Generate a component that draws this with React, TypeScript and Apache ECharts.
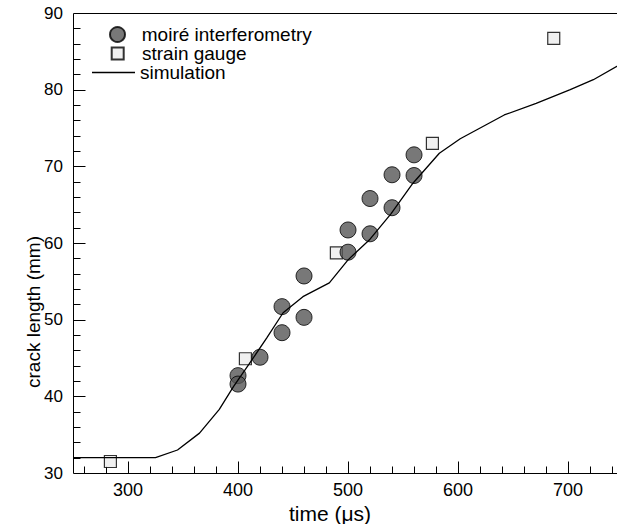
import React, { useEffect, useRef } from "react";
import * as echarts from "echarts";

const moireX = [400, 400, 420, 440, 440, 460, 460, 500, 500, 520, 520, 540, 540, 560, 560];
const moireY = [42.7, 41.6, 45.1, 51.7, 48.3, 55.7, 50.3, 61.7, 58.8, 65.8, 61.2, 68.9, 64.6, 71.5, 68.8];

const gaugeX = [284, 406.7, 489.4, 576.7, 687];
const gaugeY = [31.5, 44.9, 58.7, 73.0, 86.7];

const simX = [250, 325, 345, 365, 383, 396, 410, 426, 441, 459, 483, 500, 520, 539, 559, 583, 602, 642, 671, 702, 723, 750];
const simY = [32, 32, 33, 35.2, 38.3, 41.3, 44.2, 47.6, 50.9, 53, 54.8, 57.8, 60.5, 63.8, 67.8, 71.7, 73.6, 76.7, 78.2, 80, 81.3, 83.5];

const xMajorTicks = [300, 400, 500, 600, 700];
const xMinorTicks = [260, 280, 320, 340, 360, 380, 420, 440, 460, 480, 520, 540, 560, 580, 620, 640, 660, 680, 720, 740];
const yMajorTicks = [40, 50, 60, 70, 80];
const yMinorTicks = [32, 34, 36, 38, 42, 44, 46, 48, 52, 54, 56, 58, 62, 64, 66, 68, 72, 74, 76, 78, 82, 84, 86, 88];

const X_MIN = 250;
const X_MAX = 744.5;
const Y_MIN = 30;
const Y_MAX = 90;

const FONT = "Liberation Sans, Arial, sans-serif";

export default function App() {
  const ref = useRef<HTMLDivElement>(null);
  useEffect(() => {
    if (!ref.current) return;
    const chart = echarts.init(ref.current, undefined, { renderer: "svg" });
    const legendText = () => ({ fontSize: 19, lineHeight: 18, color: "#000", fontFamily: FONT });
    const crisp = (v: number) => Math.round(v) + 0.5;

    const renderFrame = (params: any, api: any) => {
      const lo = api.coord([X_MIN, Y_MIN]);
      const hi = api.coord([X_MAX, Y_MAX]);
      const left = crisp(lo[0]);
      const right = hi[0] + 1;
      const bottom = crisp(lo[1]);
      const top = crisp(hi[1]);
      const st = { stroke: "#000", lineWidth: 1 };
      const children: any[] = [
        { type: "line", shape: { x1: left, y1: bottom, x2: right, y2: bottom }, style: st },
        { type: "line", shape: { x1: left, y1: top, x2: right, y2: top }, style: st },
        { type: "line", shape: { x1: left, y1: top, x2: left, y2: bottom }, style: st },
      ];
      xMajorTicks.forEach((v) => {
        const x = crisp(api.coord([v, Y_MIN])[0]);
        children.push({ type: "line", shape: { x1: x, y1: bottom, x2: x, y2: bottom - 12 }, style: st });
      });
      xMinorTicks.forEach((v) => {
        const x = crisp(api.coord([v, Y_MIN])[0]);
        children.push({ type: "line", shape: { x1: x, y1: bottom, x2: x, y2: bottom - 7 }, style: st });
      });
      yMajorTicks.forEach((v) => {
        const y = crisp(api.coord([X_MIN, v])[1]);
        children.push({ type: "line", shape: { x1: left, y1: y, x2: left + 12, y2: y }, style: st });
      });
      yMinorTicks.forEach((v) => {
        const y = crisp(api.coord([X_MIN, v])[1]);
        children.push({ type: "line", shape: { x1: left, y1: y, x2: left + 7, y2: y }, style: st });
      });
      return { type: "group", children };
    };

    chart.setOption({
      animation: false,
      grid: { left: 73, top: 13, right: 0, bottom: 51 },
      legend: [
        {
          data: [{ name: "moiré interferometry", icon: "circle" }],
          left: 109,
          top: 25,
          padding: 0,
          itemWidth: 38.6,
          itemHeight: 15,
          textStyle: legendText(),
        },
        {
          data: [{ name: "strain gauge", icon: "path://M0,0H10V10H0Z" }],
          left: 110.7,
          top: 44,
          padding: 0,
          itemWidth: 38.6,
          itemHeight: 12,
          textStyle: legendText(),
        },
        {
          data: [{ name: "simulation", icon: "path://M0,0H43V1.3H0Z" }],
          left: 92,
          top: 63,
          padding: 0,
          itemWidth: 43,
          itemHeight: 14,
          textStyle: legendText(),
        },
      ],
      xAxis: {
        type: "value",
        min: X_MIN,
        max: X_MAX,
        position: "bottom",
        axisLine: { show: false },
        splitLine: { show: false },
        axisTick: { show: false },
        axisLabel: { customValues: xMajorTicks, margin: 8, fontSize: 18, color: "#000" },
      },
      yAxis: {
        type: "value",
        min: Y_MIN,
        max: Y_MAX,
        interval: 10,
        axisLine: { show: false },
        splitLine: { show: false },
        axisTick: { show: false },
        axisLabel: { margin: 10, fontSize: 17, color: "#000" },
      },
      series: [
        {
          name: "frame",
          type: "custom",
          coordinateSystem: "cartesian2d",
          data: [[X_MIN, Y_MIN]],
          renderItem: renderFrame,
          silent: true,
          clip: false,
          z: 1,
        },
        {
          name: "simulation",
          type: "line",
          data: simX.map((x, i) => [x, simY[i]]),
          showSymbol: false,
          symbol: "none",
          lineStyle: { color: "#000", width: 1.3 },
          itemStyle: { color: "#000" },
        },
        {
          name: "strain gauge",
          type: "scatter",
          symbol: "rect",
          symbolSize: 12,
          data: gaugeX.map((x, i) => [x, gaugeY[i]]),
          itemStyle: { color: "#ececec", borderColor: "#000", borderWidth: 1.2 },
        },
        {
          name: "moiré interferometry",
          type: "scatter",
          symbol: "circle",
          symbolSize: 16,
          data: moireX.map((x, i) => [x, moireY[i]]),
          itemStyle: { color: "#565656", borderColor: "#000", borderWidth: 1 },
        },
      ],
      graphic: [
        {
          type: "text",
          x: 330,
          y: 513,
          style: {
            text: "time (μs)",
            fontSize: 21,
            fontFamily: FONT,
            fill: "#000",
            align: "center",
            verticalAlign: "middle",
          },
        },
        {
          type: "text",
          x: 33,
          y: 312,
          rotation: Math.PI / 2,
          style: {
            text: "crack length (mm)",
            fontSize: 19,
            fontFamily: FONT,
            fill: "#000",
            align: "center",
            verticalAlign: "middle",
          },
        },
      ],
    });
    return () => chart.dispose();
  }, []);
  return (
    <div
      ref={ref}
      style={{ position: "absolute", left: 0, top: 0, width: 617, height: 524 }}
    />
  );
}
